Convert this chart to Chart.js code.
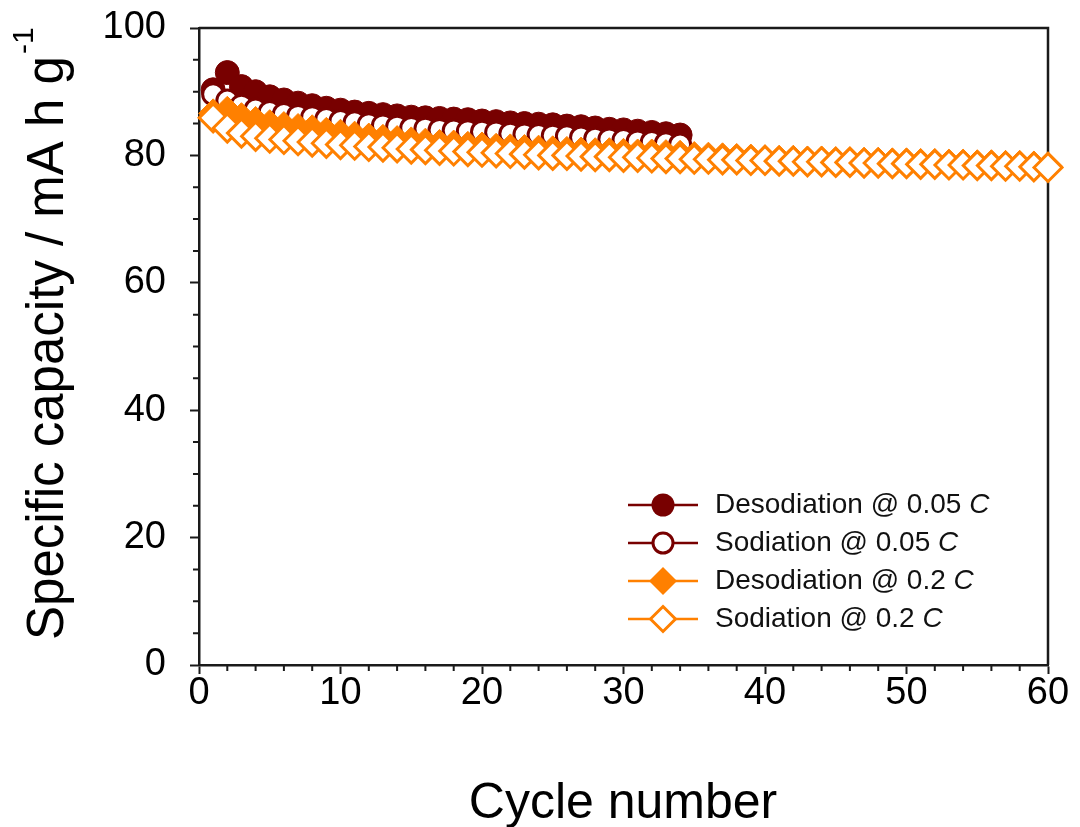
<!DOCTYPE html>
<html>
<head>
<meta charset="utf-8">
<script src="https://cdn.jsdelivr.net/npm/chart.js@4/dist/chart.umd.min.js"></script>
<style>
  html, body { margin: 0; padding: 0; background: #fff; }
  #wrap { width: 1080px; height: 827px; }
</style>
</head>
<body>
<div id="wrap"><canvas id="chart" width="1080" height="827"></canvas></div>
<script>
// cycle numbers
const cyclesSlow = [1,2,3,4,5,6,7,8,9,10,11,12,13,14,15,16,17,18,19,20,21,22,23,24,25,26,27,28,29,30,31,32,33,34];
const cyclesFast = [1,2,3,4,5,6,7,8,9,10,11,12,13,14,15,16,17,18,19,20,21,22,23,24,25,26,27,28,29,30,
  31,32,33,34,35,36,37,38,39,40,41,42,43,44,45,46,47,48,49,50,51,52,53,54,55,56,57,58,59,60];

// specific capacity, mA h g-1
const desodSlow = [90.3,93.0,90.8,90.0,89.2,88.7,88.2,87.8,87.4,87.1,86.8,86.6,86.4,86.2,86.0,85.9,85.8,
  85.7,85.6,85.4,85.3,85.1,85.0,84.9,84.8,84.6,84.5,84.3,84.1,84.0,83.8,83.6,83.4,83.2];
const sodSlow = [89.6,88.6,87.8,87.2,86.8,86.5,86.2,86.0,85.7,85.4,85.2,84.9,84.7,84.5,84.3,84.2,84.0,
  83.9,83.8,83.7,83.6,83.4,83.3,83.2,83.1,83.0,82.8,82.6,82.5,82.4,82.2,82.1,81.9,81.7];
const desodFast = [86.6,87.0,86.0,85.4,84.9,84.6,84.3,84.1,83.7,83.4,83.1,82.8,82.6,82.4,82.2,82.0,81.8,
  81.7,81.5,81.4,81.2,81.1,81.0,80.9,80.8,80.7,80.6,80.5,80.5,80.4,80.3,80.3,80.2,80.1,79.9,79.8,79.7,
  79.6,79.5,79.4,79.3,79.3,79.2,79.2,79.1,79.1,79.0,79.0,78.9,78.9,78.8,78.8,78.7,78.7,78.6,78.6,78.5,
  78.5,78.4,78.3];
const sodFast = [85.9,84.3,83.5,83.0,82.7,82.5,82.3,82.1,81.9,81.7,81.6,81.4,81.3,81.2,81.0,80.9,80.8,
  80.7,80.6,80.5,80.4,80.3,80.2,80.1,80.0,80.0,79.9,79.8,79.8,79.7,79.7,79.6,79.5,79.5,79.4,79.4,79.3,
  79.3,79.2,79.2,79.1,79.1,79.0,79.0,78.9,78.9,78.8,78.8,78.7,78.7,78.6,78.6,78.5,78.5,78.4,78.4,78.3,
  78.3,78.2,78.1];

const seriesNames = ['Desodiation @ 0.05 ', 'Sodiation @ 0.05 ', 'Desodiation @ 0.2 ', 'Sodiation @ 0.2 '];

const DARK = '#780000';
const ORANGE = '#ff8000';
const AXIS = '#1a1a1a';
const FONT = '"Liberation Sans", Arial, sans-serif';

const pts = (xs, ys) => xs.map((c, i) => ({ x: c, y: ys[i] }));

const legendRows = [
  { label: seriesNames[0], color: DARK, fill: DARK, shape: 'circle' },
  { label: seriesNames[1], color: DARK, fill: '#fff', shape: 'circle' },
  { label: seriesNames[2], color: ORANGE, fill: ORANGE, shape: 'diamond' },
  { label: seriesNames[3], color: ORANGE, fill: '#fff', shape: 'diamond' },
];

const frame = {
  id: 'frame',
  beforeDatasetsDraw(chart) {
    const { ctx, chartArea: a, scales: { x, y } } = chart;
    ctx.save();
    ctx.strokeStyle = AXIS;
    ctx.lineWidth = 2.5;
    ctx.beginPath();
    ctx.moveTo(a.left, a.top);
    ctx.lineTo(a.right, a.top);
    ctx.lineTo(a.right, a.bottom);
    ctx.stroke();
    // minor ticks
    ctx.lineWidth = 2;
    ctx.beginPath();
    for (let v = 5; v < 100; v += 5) {
      if (v % 20 === 0) continue;
      const py = y.getPixelForValue(v);
      ctx.moveTo(a.left, py); ctx.lineTo(a.left - 6, py);
    }
    for (let v = 2; v < 60; v += 2) {
      if (v % 10 === 0) continue;
      const px = x.getPixelForValue(v);
      ctx.moveTo(px, a.bottom); ctx.lineTo(px, a.bottom + 6);
    }
    ctx.stroke();
    ctx.restore();
  },
  afterDraw(chart) {
    const { ctx } = chart;
    ctx.save();
    ctx.fillStyle = '#000';
    // y title
    ctx.save();
    ctx.translate(63, 640);
    ctx.rotate(-Math.PI / 2);
    ctx.textAlign = 'left';
    ctx.textBaseline = 'alphabetic';
    ctx.font = '51px ' + FONT;
    const main = 'Specific capacity / mA h g';
    ctx.fillText(main, 0, 0);
    const w = ctx.measureText(main).width;
    ctx.font = '30px ' + FONT;
    ctx.fillText('-1', w + 2, -30);
    ctx.restore();
    // x title
    ctx.font = '50px ' + FONT;
    ctx.textAlign = 'center';
    ctx.textBaseline = 'alphabetic';
    ctx.fillText('Cycle number', 623, 818);
    // legend
    const rowY = [505, 543, 581, 619];
    legendRows.forEach((r, i) => {
      const yy = rowY[i];
      ctx.strokeStyle = r.color;
      ctx.lineWidth = 2.5;
      ctx.beginPath(); ctx.moveTo(628, yy); ctx.lineTo(698, yy); ctx.stroke();
      ctx.fillStyle = r.fill;
      ctx.lineWidth = 3;
      ctx.beginPath();
      if (r.shape === 'circle') {
        ctx.arc(663, yy, r.fill === '#fff' ? 10 : 11.5, 0, Math.PI * 2);
      } else {
        const s = r.fill === '#fff' ? 12.5 : 14;
        ctx.moveTo(663, yy - s); ctx.lineTo(663 + s, yy); ctx.lineTo(663, yy + s); ctx.lineTo(663 - s, yy);
        ctx.closePath();
      }
      ctx.fill();
      if (r.fill === '#fff') ctx.stroke();
      ctx.fillStyle = '#111';
      ctx.textAlign = 'left';
      ctx.textBaseline = 'middle';
      ctx.font = '28px ' + FONT;
      ctx.fillText(r.label, 715, yy);
      const lw = ctx.measureText(r.label).width;
      ctx.font = 'italic 28px ' + FONT;
      ctx.fillText('C', 715 + lw, yy);
    });
    ctx.restore();
  }
};

new Chart(document.getElementById('chart'), {
  type: 'line',
  data: {
    datasets: [
      {
        label: seriesNames[0] + 'C',
        data: pts(cyclesSlow, desodSlow),
        borderColor: DARK, backgroundColor: DARK, borderWidth: 2,
        pointStyle: 'circle', pointRadius: 12, pointBorderWidth: 1,
        pointBackgroundColor: DARK, pointBorderColor: DARK,
        order: 4, clip: false,
      },
      {
        label: seriesNames[1] + 'C',
        data: pts(cyclesSlow, sodSlow),
        borderColor: DARK, backgroundColor: '#fff', borderWidth: 2,
        pointStyle: 'circle', pointRadius: 10.5, pointBorderWidth: 3,
        pointBackgroundColor: '#fff', pointBorderColor: DARK,
        order: 3, clip: false,
      },
      {
        label: seriesNames[2] + 'C',
        data: pts(cyclesFast, desodFast),
        borderColor: ORANGE, backgroundColor: ORANGE, borderWidth: 2,
        pointStyle: 'rectRot', pointRadius: 14.5, pointBorderWidth: 1,
        pointBackgroundColor: ORANGE, pointBorderColor: ORANGE,
        order: 2, clip: false,
      },
      {
        label: seriesNames[3] + 'C',
        data: pts(cyclesFast, sodFast),
        borderColor: ORANGE, backgroundColor: '#fff', borderWidth: 2,
        pointStyle: 'rectRot', pointRadius: 14, pointBorderWidth: 3,
        pointBackgroundColor: '#fff', pointBorderColor: ORANGE,
        order: 1, clip: false,
      },
    ]
  },
  options: {
    responsive: false,
    animation: false,
    devicePixelRatio: 1,
    layout: { padding: { top: 28, right: 32, left: 0, bottom: 0 } },
    plugins: {
      legend: { display: false },
      tooltip: { enabled: false },
    },
    scales: {
      x: {
        type: 'linear',
        min: 0, max: 60,
        afterFit: (s) => { s.height = 162; s.paddingLeft = 0; s.paddingRight = 0; },
        ticks: { stepSize: 10, color: '#000', padding: -3, font: { family: FONT, size: 38 } },
        grid: { drawOnChartArea: false, drawTicks: true, tickLength: 9, tickColor: AXIS, tickWidth: 2 },
        border: { display: true, color: AXIS, width: 2.5 },
      },
      y: {
        min: 0, max: 100,
        afterFit: (s) => { s.width = 199; s.paddingTop = 0; s.paddingBottom = 0; },
        ticks: { stepSize: 20, color: '#000', padding: 24, font: { family: FONT, size: 38 } },
        grid: { drawOnChartArea: false, drawTicks: true, tickLength: 9, tickColor: AXIS, tickWidth: 2 },
        border: { display: true, color: AXIS, width: 2.5 },
      },
    },
  },
  plugins: [frame],
});
</script>
</body>
</html>
